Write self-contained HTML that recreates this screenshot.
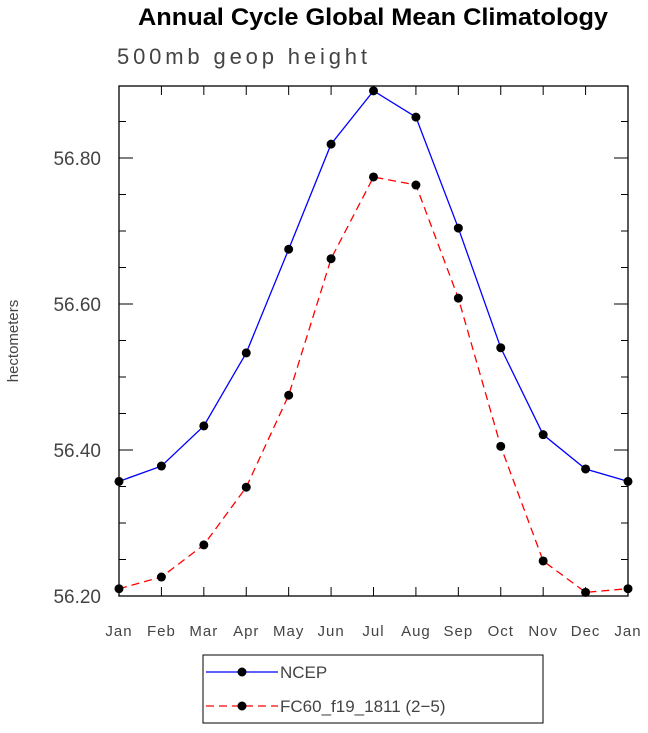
<!DOCTYPE html>
<html><head><meta charset="utf-8"><style>
body{margin:0;background:#fff;width:648px;height:728px;overflow:hidden}
svg text{font-family:"Liberation Sans",sans-serif}
</style></head><body>
<svg id="chart" width="648" height="728">
<text x="373" y="25" text-anchor="middle" font-size="24" font-weight="bold" textLength="470" lengthAdjust="spacingAndGlyphs">Annual Cycle Global Mean Climatology</text>
<text x="117" y="64" font-size="22" fill="#444" textLength="250" lengthAdjust="spacing">500mb geop height</text>
<text transform="translate(18,341) rotate(-90)" text-anchor="middle" font-size="15" fill="#444">hectometers</text>
<g id="axes"></g>
<g id="series"></g>
<g>
<rect x="203" y="655" width="340" height="68" fill="none" stroke="#000" stroke-width="1"/>
<g>
<line x1="206" y1="672" x2="278" y2="672" stroke="#0000ff" stroke-width="1.3"/>
<circle cx="242" cy="672" r="4.5"/>
<text x="280" y="678" font-size="17" fill="#444">NCEP</text></g>
<g>
<line x1="206" y1="706" x2="278" y2="706" stroke="#ff0000" stroke-width="1.3" stroke-dasharray="8,5"/>
<circle cx="242" cy="706" r="4.5"/>
<text x="280" y="712" font-size="17" fill="#444">FC60_f19_1811 (2−5)</text></g>
</g>
</svg>
<script>
const months=["Jan","Feb","Mar","Apr","May","Jun","Jul","Aug","Sep","Oct","Nov","Dec","Jan"];
const ncep=[56.357,56.378,56.433,56.533,56.675,56.819,56.892,56.856,56.704,56.540,56.421,56.374,56.357];
const fc60=[56.210,56.226,56.270,56.349,56.475,56.662,56.774,56.763,56.608,56.405,56.248,56.205,56.210];
const yTicks=[56.20,56.40,56.60,56.80];
const yLabels=["56.20","56.40","56.60","56.80"];
const X0=119,X1=628,Y0=596,Y1=86,YMIN=56.2,YMAX=56.2+(596-86)/730;
const xs=i=>X0+(X1-X0)*i/(months.length-1);
const ys=v=>Y0-(v-YMIN)/(YMAX-YMIN)*(Y0-Y1);
const NS="http://www.w3.org/2000/svg";
function mk(t,a,p){const e=document.createElementNS(NS,t);for(const k in a)e.setAttribute(k,a[k]);p.appendChild(e);return e;}
const ax=document.getElementById('axes');
const frame=mk('rect',{x:X0,y:Y1,width:X1-X0,height:Y0-Y1,fill:'none',stroke:'#000','stroke-width':1.3},ax);


months.forEach((m,i)=>{const x=xs(i);
if(i>0&&i<months.length-1){mk('line',{x1:x,y1:Y0,x2:x,y2:Y0-9,stroke:'#000'},ax);mk('line',{x1:x,y1:Y1,x2:x,y2:Y1+9,stroke:'#000'},ax);}
const t=mk('text',{x:x,y:Y0+40,'text-anchor':'middle','font-size':15,fill:'#444','letter-spacing':'1'},ax);t.textContent=m;

});
for(let v=YMIN+0.05;v<YMAX;v+=0.05){const y=ys(v);const major=Math.abs((v-YMIN)/0.2-Math.round((v-YMIN)/0.2))<0.01;
const L=major?14:7;mk('line',{x1:X0,y1:y,x2:X0+L,y2:y,stroke:'#000'},ax);mk('line',{x1:X1,y1:y,x2:X1-L,y2:y,stroke:'#000'},ax);}
yTicks.forEach((v,i)=>{const t=mk('text',{x:X0-18,y:ys(v)+7,'text-anchor':'end','font-size':19,fill:'#444'},ax);t.textContent=yLabels[i];

});
const sg=document.getElementById('series');
function series(data,color,dash,name){const g=mk('g',{},sg);


mk('polyline',{points:data.map((v,i)=>xs(i)+','+ys(v)).join(' '),fill:'none',stroke:color,'stroke-width':1.3,'stroke-dasharray':dash},g);
data.forEach((v,i)=>{const c=mk('circle',{cx:xs(i),cy:ys(v),r:4.5,fill:'#000'},g);

});}
series(ncep,'#0000ff','none','ncep-line');
series(fc60,'#ff0000','8,5','fc60-line');
</script>
</body></html>
